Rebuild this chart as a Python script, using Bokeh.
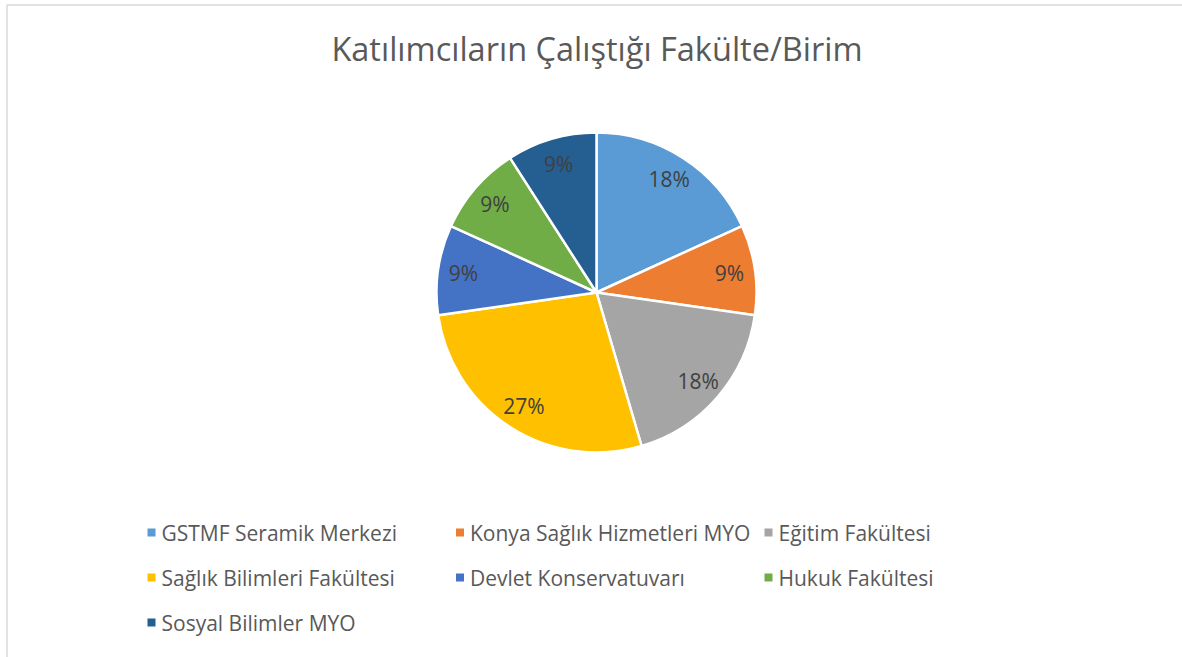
import numpy as np
from bokeh.plotting import figure
from bokeh.models import ColumnDataSource, Label, Range1d
from bokeh.core.properties import value
from bokeh.embed import file_html
from bokeh.resources import INLINE

title_text = "Katılımcıların Çalıştığı Fakülte/Birim"
categories = ["GSTMF Seramik Merkezi", "Konya Sağlık Hizmetleri MYO", "Eğitim Fakültesi",
              "Sağlık Bilimleri Fakültesi", "Devlet Konservatuvarı", "Hukuk Fakültesi",
              "Sosyal Bilimler MYO"]
counts = [2, 1, 2, 3, 1, 1, 1]
colors = ["#5B9BD5", "#ED7D31", "#A5A5A5", "#FFC000", "#4472C4", "#70AD47", "#255E91"]

W, H = 1182, 657
FONT = "Open Sans"
CX, CY, R = 596, 365, 160

vals = np.array(counts, dtype=float)
frac = vals / vals.sum()
cum_end = np.cumsum(frac)
cum_start = cum_end - frac
start_ang = np.pi / 2 - cum_start * 2 * np.pi
end_ang = np.pi / 2 - cum_end * 2 * np.pi
mid = (cum_start + cum_end) / 2 * 2 * np.pi
r_lab = 0.84 * R
lab_x = CX + r_lab * np.sin(mid)
lab_y = CY + r_lab * np.cos(mid)
labels = [f"{round(f * 100):.0f}%" for f in frac]

src = ColumnDataSource(dict(cat=categories, color=colors, start=start_ang, end=end_ang,
                            lx=lab_x, ly=lab_y, lab=labels))

p = figure(width=W, height=H, output_backend="svg", toolbar_location=None,
           x_range=Range1d(0, W), y_range=Range1d(0, H), min_border=0)
p.axis.visible = False
p.grid.visible = False
p.outline_line_color = None
p.background_fill_color = "white"
p.border_fill_color = "white"

# chart area border (left and top edges visible in the crop)
p.line(x=[6.5, 6.5, W], y=[0, H - 4.5, H - 4.5], line_color="#D9D9D9", line_width=1.5)

r = p.wedge(x=CX, y=CY, radius=R, start_angle="start", end_angle="end", direction="clock",
            fill_color="color", line_color="white", line_width=2.5, source=src)

p.text(x="lx", y="ly", text="lab", source=src, text_align="center", text_baseline="middle",
       text_font=value(FONT), text_font_size="21px", text_color="#404040")

p.add_layout(Label(x=CX + 0.5, y=H - 48, text=title_text, text_align="center",
                   text_baseline="middle", text_font=FONT, text_font_size="32.5px",
                   text_color="#595959"))

# legend laid out in 3 columns like the Office chart legend
idx = np.arange(len(categories))
col = idx % 3
row = idx // 3
leg_x = 151 + 308.5 * col
leg_y = (H - 532) - 45 * row
leg = ColumnDataSource(dict(x=leg_x, y=leg_y, tx=leg_x + 10, color=colors, cat=categories))
p.rect(x="x", y="y", width=8, height=8, fill_color="color", line_color=None, source=leg)
p.text(x="tx", y="y", text="cat", source=leg, text_align="left", text_baseline="middle",
       text_font=value(FONT), text_font_size="21px", text_color="#595959")

open("out.html", "w").write(file_html(p, INLINE))
